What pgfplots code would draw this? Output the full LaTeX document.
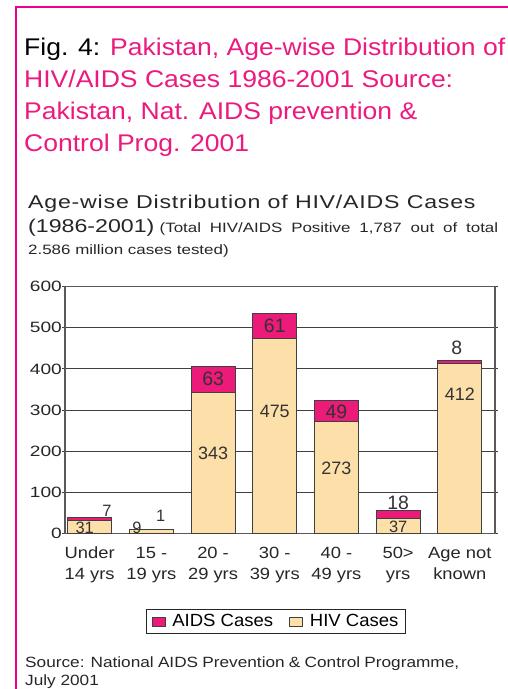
\documentclass[border=0pt]{standalone}
\usepackage{pgfplots}
\pgfplotsset{compat=1.18}
\usepackage{pgfplotstable}
\usepackage{fontspec}
\setmainfont{Liberation Sans}
\newfontfamily\titlefont{Liberation Sans}[FakeStretch=1.10]
\newfontfamily\subfont{Liberation Sans}[FakeStretch=1.25]
\newfontfamily\subwide{Liberation Sans}[FakeStretch=1.25, LetterSpace=4.2]
\newfontfamily\wideticks{Liberation Sans}[FakeStretch=1.28]
\newfontfamily\xtfont{Liberation Sans}[FakeStretch=1.13]
\newfontfamily\legfont{Liberation Sans}[FakeStretch=1.05]
\newfontfamily\srcfont{Liberation Sans}[FakeStretch=1.16]

\definecolor{aidspink}{HTML}{EC1A78}
\definecolor{hivpeach}{HTML}{FDDFAA}
\definecolor{titlepink}{HTML}{EC1A7E}
\definecolor{framepink}{HTML}{EC008C}
\definecolor{labgray}{HTML}{333333}

\pgfplotsset{sqlegend/.style={legend image code/.code={\draw[##1, line width=0.8bp] (0bp,-4.5bp) rectangle (13bp,4.5bp);}}}

% age groups 0..6, HIV and AIDS cases
\pgfplotstableread{
x hiv aids
0 31 7
1 9 1
2 343 63
3 475 61
4 273 49
5 37 18
6 412 8
}\agedata

% label positions
\pgfplotstableread{
x y lab
2 376 63
3 505.6 61
4 295 49
5 74 18
5.95 451 8
}\biglabels
\pgfplotstableread{
x y lab
2 194.6 343
3 297.5 475
4 158 273
6 338 412
}\midlabels
\pgfplotstableread{
x y lab
-0.08 14 31
0.28 55 7
0.765 13 9
1.15 42 1
5 15 37
}\smalllabels

\begin{document}
\begin{tikzpicture}
\useasboundingbox (0,0) rectangle (508bp,-689bp);
\draw[framepink, line width=2bp] (16bp,-689bp) -- (16bp,-7bp) -- (508bp,-7bp);

% heading
\begin{scope}[every node/.style={anchor=base west, inner sep=0pt, font=\titlefont\fontsize{24.2}{32}\selectfont, text=titlepink}]
\node at (24bp,-55bp) {\textcolor{black}{Fig. 4:} Pakistan, Age-wise Distribution of};
\node at (24bp,-87.3bp) {HIV/AIDS Cases 1986-2001 Source:};
\node at (24bp,-119.3bp) {Pakistan, Nat. AIDS prevention \&};
\node at (24bp,-151bp) {Control Prog. 2001};
\end{scope}

\begin{scope}[every node/.style={anchor=base west, inner sep=0pt, text=black!85}]
\node[font=\subwide\fontsize{18.6}{20}\selectfont] at (28bp,-208.3bp) {Age-wise Distribution of HIV/AIDS Cases};
\node at (28bp,-232.7bp) {\makebox[470bp][s]{{\subfont\fontsize{18.6}{20}\selectfont (1986-2001)} {\subfont\fontsize{13.6}{15}\selectfont (Total HIV/AIDS Positive 1,787 out of total}}};
\node[font=\subfont\fontsize{13.6}{15}\selectfont] at (28bp,-254bp) {2.586 million cases tested)};
\node at (25bp,-667.3bp) {\srcfont\fontsize{14.9}{18}\selectfont\makebox[434bp][s]{Source: National AIDS Prevention \& Control Programme,}};
\node[font=\srcfont\fontsize{14.9}{18}\selectfont] at (25bp,-685.5bp) {July 2001};
\end{scope}

\begin{axis}[
  at={(65bp,-533.3bp)}, anchor=south west,
  scale only axis, width=430bp, height=246.6bp,
  ybar stacked, bar width=44bp,
  xmin=-0.4, xmax=6.57, ymin=0, ymax=600,
  xtick={0,...,6},
  xticklabels={{Under\\14 yrs},{15 -\\19 yrs},{20 -\\29 yrs},{30 -\\39 yrs},{40 -\\49 yrs},{50>\\yrs},{Age not\\known}},
  x tick label style={align=center, font=\xtfont\fontsize{16.3}{21}\selectfont, text=black!85, inner ysep=0pt, yshift=-11bp},
  ytick={0,100,...,600},
  y tick label style={font=\wideticks\fontsize{15}{15}\selectfont, text=black!85, inner xsep=0.5bp},
  /pgf/number format/assume math mode=true,
  tick align=outside, major tick length=2.5bp,
  x tick style={draw=none},
  y tick style={draw=black!75, line width=1bp},
  ymajorgrids, grid style={draw=black!75, line width=1bp},
  axis line style={draw=black!65, line width=1.2bp},
  legend style={at={(0.4907,-0.3577)}, anchor=center, legend columns=2,
    draw=black!85, line width=1bp, font=\legfont\fontsize{17.7}{20}\selectfont,
    inner xsep=5bp, inner ysep=3.5bp,
    /tikz/every odd column/.append style={column sep=5bp},
    /tikz/every even column/.append style={column sep=14bp}},
  legend cell align=left,
  reverse legend,
]
\addplot[fill=hivpeach, draw=black!75, line width=1bp, sqlegend]
  table[x=x, y=hiv] {\agedata};
\addlegendentry{HIV Cases}
\addplot[fill=aidspink, draw=black!75, line width=1bp, sqlegend]
  table[x=x, y=aids] {\agedata};
\addlegendentry{AIDS Cases}
\end{axis}

% value labels
\begin{axis}[
  at={(65bp,-533.3bp)}, anchor=south west,
  scale only axis, width=430bp, height=246.6bp,
  xmin=-0.4, xmax=6.57, ymin=0, ymax=600,
  hide axis, clip=false,
  nodes near coords, point meta=explicit symbolic,
  every node near coord/.append style={anchor=center, text=labgray, inner sep=0pt},
]
\addplot[draw=none, mark=none, nodes near coords style={font=\fontsize{19.5}{19.5}\selectfont}]
  table[x=x, y=y, meta=lab] {\biglabels};
\addplot[draw=none, mark=none, nodes near coords style={font=\fontsize{18}{18}\selectfont}]
  table[x=x, y=y, meta=lab] {\midlabels};
\addplot[draw=none, mark=none, nodes near coords style={font=\fontsize{16.5}{16.5}\selectfont}]
  table[x=x, y=y, meta=lab] {\smalllabels};
\end{axis}
\end{tikzpicture}
\end{document}
